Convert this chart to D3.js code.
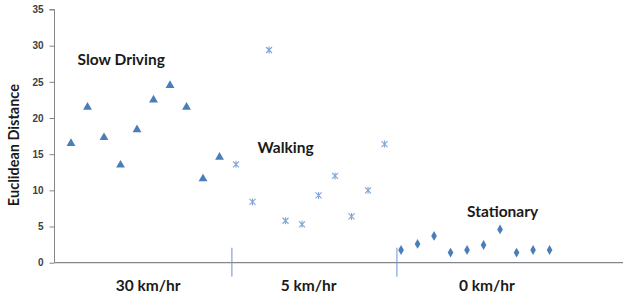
<!DOCTYPE html>
<html>
<head>
<meta charset="utf-8">
<script src="https://cdn.jsdelivr.net/npm/d3@7"></script>
<style>
  body { margin: 0; background: #fff; }
</style>
</head>
<body>
<svg></svg>
<script>
const width = 623;
const height = 299;

// values, one point per sample index 1..30
const slowDriving = [16.5, 21.5, 17.3, 13.5, 18.4, 22.5, 24.5, 21.5, 11.6, 14.6];
const walking = [13.6, 8.4, 29.4, 5.8, 5.3, 9.3, 12.0, 6.4, 10.0, 16.4];
const stationary = [1.75, 2.6, 3.7, 1.4, 1.75, 2.45, 4.6, 1.4, 1.75, 1.75];
const yTicks = [0, 5, 10, 15, 20, 25, 30, 35];
const groupBreaks = [10.75, 20.75];
const groupLabels = [
  { text: "30 km/hr", at: 5.67 },
  { text: "5 km/hr", at: 15.4 },
  { text: "0 km/hr", at: 26.2 }
];
const seriesLabels = [
  { text: "Slow Driving", x: 1.4, y: 27.3 },
  { text: "Walking", x: 12.3, y: 15.2 },
  { text: "Stationary", x: 25, y: 6.3 }
];

const x = d3.scaleLinear().domain([0, 34.45]).range([54.5, 623]);
const y = d3.scaleLinear().domain([0, 35]).range([262.7, 9.5]);

const svg = d3.select("svg")
  .attr("width", width)
  .attr("height", height)
  .style("font-family", "Lato, 'Open Sans', sans-serif");

// y axis
const yAxis = svg.append("g")
  .attr("transform", `translate(${x(0)},0)`)
  .call(d3.axisLeft(y).tickValues(yTicks).tickSize(5).tickPadding(6));
yAxis.select(".domain").attr("stroke", "#868686").attr("d", `M-5,${y(35)}H0V${y(0)}`);
yAxis.selectAll(".tick line").attr("stroke", "#868686");
yAxis.selectAll(".tick text")
  .attr("fill", "#404040")
  .style("font-size", "10px")
  .style("font-weight", "bold");

// x axis line
svg.append("line")
  .attr("x1", x(0)).attr("x2", x(34.45))
  .attr("y1", y(0)).attr("y2", y(0))
  .attr("stroke", "#868686")
  .attr("stroke-width", 1.2);

// group dividers
svg.selectAll("line.break")
  .data(groupBreaks)
  .enter()
  .append("line")
  .attr("class", "break")
  .attr("x1", d => x(d)).attr("x2", d => x(d))
  .attr("y1", y(0) - 15).attr("y2", y(0) + 14)
  .attr("stroke", "#6f93c9")
  .attr("stroke-width", 1);

const blue = "#4a7ebb";

// slow driving triangles
svg.selectAll("path.tri")
  .data(slowDriving)
  .enter()
  .append("path")
  .attr("class", "tri")
  .attr("d", d3.symbol(d3.symbolTriangle, 34))
  .attr("transform", (d, i) => `translate(${x(i + 1)},${y(d)})`)
  .attr("fill", blue);

// walking stars
const star = "M-3,-3L3,3M3,-3L-3,3M0,-3.5V3.5";
svg.selectAll("path.star")
  .data(walking)
  .enter()
  .append("path")
  .attr("class", "star")
  .attr("d", star)
  .attr("transform", (d, i) => `translate(${x(i + 11)},${y(d)})`)
  .attr("fill", "none")
  .attr("stroke", "#7fa6d9")
  .attr("stroke-width", 1.1);

// stationary diamonds
svg.selectAll("path.dia")
  .data(stationary)
  .enter()
  .append("path")
  .attr("class", "dia")
  .attr("d", d3.symbol(d3.symbolDiamond, 28))
  .attr("transform", (d, i) => `translate(${x(i + 21)},${y(d)})`)
  .attr("fill", blue);

// series labels
svg.selectAll("text.series")
  .data(seriesLabels)
  .enter()
  .append("text")
  .attr("class", "series")
  .attr("x", d => x(d.x))
  .attr("y", d => y(d.y))
  .attr("fill", "#1a1a1a")
  .style("font-size", "15.5px")
  .style("font-weight", "bold")
  .text(d => d.text);

// category labels
svg.selectAll("text.group")
  .data(groupLabels)
  .enter()
  .append("text")
  .attr("class", "group")
  .attr("x", d => x(d.at))
  .attr("y", 291)
  .attr("text-anchor", "middle")
  .attr("fill", "#1a1a1a")
  .style("font-size", "15.5px")
  .style("font-weight", "bold")
  .text(d => d.text);

// y title
svg.append("text")
  .attr("transform", `translate(19,${y(17.5) + 9}) rotate(-90)`)
  .attr("text-anchor", "middle")
  .attr("fill", "#1a1a1a")
  .style("font-size", "14.5px")
  .style("font-weight", "bold")
  .text("Euclidean Distance");
</script>
</body>
</html>
